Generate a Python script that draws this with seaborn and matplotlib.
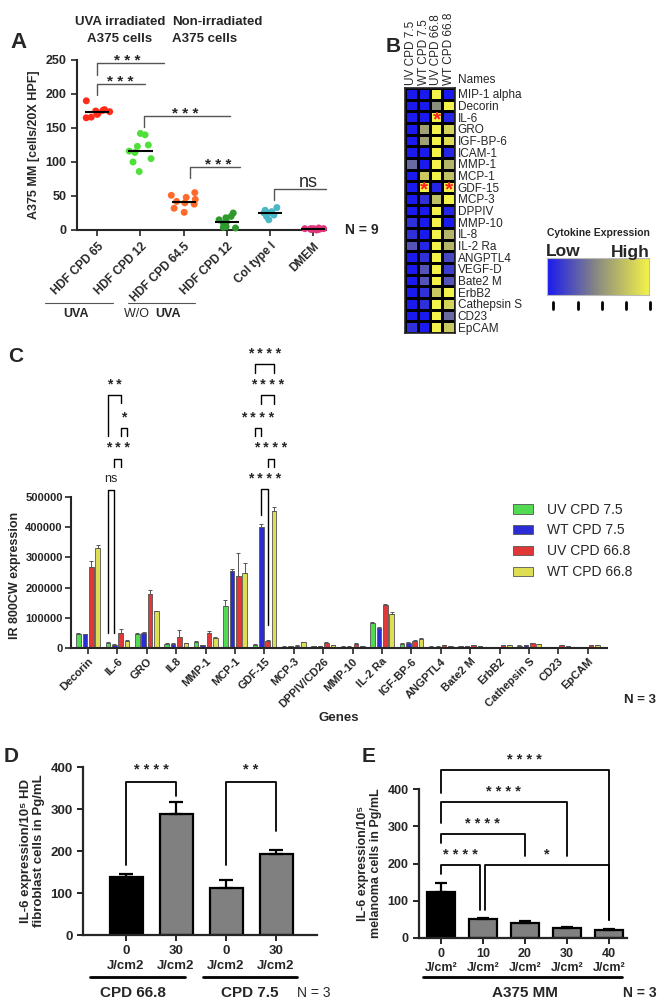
import numpy as np
import pandas as pd
import matplotlib
matplotlib.use('Agg')
import matplotlib.pyplot as plt
import seaborn as sns
from matplotlib.colors import LinearSegmentedColormap
from matplotlib.container import BarContainer

sns.set_style('ticks')
plt.rcParams['font.family'] = ['Liberation Sans', 'DejaVu Sans']
np.random.seed(7)

W, H = 661, 1000


def fx(x):
    return x / W


def fy(y):
    return 1 - y / H


def rect(x0, y0, x1, y1):
    return [x0 / W, 1 - y1 / H, (x1 - x0) / W, (y1 - y0) / H]


# ---------------- data ----------------
# A: migration of A375 cells (cells / 20X HPF)
a_labels = ['HDF CPD 65', 'HDF CPD 12', 'HDF CPD 64.5', 'HDF CPD 12', 'Col type I', 'DMEM']
a_keys = ['uva65', 'uva12', 'no64', 'no12', 'col', 'dmem']
a_colors = ['#ff2a1a', '#4fe03a', '#ff6a2a', '#2e9a2e', '#4ab6c6', '#e0357a']
a_uva65 = [190, 177, 175, 176, 174, 172, 170, 165, 166]
a_uva12 = [142, 140, 125, 123, 116, 114, 105, 100, 86]
a_no64 = [55, 51, 48, 45, 42, 40, 38, 32, 26]
a_no12 = [25, 20, 18, 15, 12, 10, 5, 4, 3]
a_col = [33, 29, 27, 25, 25, 24, 22, 20, 15]
a_dmem = [3, 2, 2, 2, 1, 1, 1, 0, 2]

# B: heatmap (0 = low / blue, 1 = high / yellow)
b_cols = ['UV CPD 7.5', 'WT CPD 7.5', 'UV CPD 66.8', 'WT CPD 66.8']
b_rows = ['MIP-1 alpha', 'Decorin', 'IL-6', 'GRO', 'IGF-BP-6', 'ICAM-1', 'MMP-1',
          'MCP-1', 'GDF-15', 'MCP-3', 'DPPIV', 'MMP-10', 'IL-8', 'IL-2 Ra',
          'ANGPTL4', 'VEGF-D', 'Bate2 M', 'ErbB2', 'Cathepsin S', 'CD23', 'EpCAM']
b_values = [
    [0.0, 0.0, 1.0, 0.0],
    [0.0, 0.0, 0.5, 1.0],
    [0.0, 0.0, 1.0, 0.05],
    [0.0, 0.6, 1.0, 0.85],
    [0.0, 0.6, 1.0, 0.9],
    [0.0, 0.0, 1.0, 0.05],
    [0.35, 0.0, 1.0, 0.7],
    [0.0, 0.8, 1.0, 0.75],
    [0.0, 1.0, 0.05, 1.0],
    [0.0, 0.1, 0.75, 1.0],
    [0.0, 0.0, 1.0, 0.05],
    [0.1, 0.0, 1.0, 0.0],
    [0.1, 0.0, 1.0, 0.7],
    [0.25, 0.05, 1.0, 0.7],
    [0.0, 0.1, 1.0, 0.2],
    [0.0, 0.25, 1.0, 0.15],
    [0.0, 0.25, 1.0, 0.25],
    [0.0, 0.1, 0.8, 1.0],
    [0.0, 0.1, 1.0, 0.85],
    [0.0, 0.0, 1.0, 0.35],
    [0.1, 0.0, 1.0, 0.8],
]

# C: IR 800CW expression (x1000)
c_genes = ['Decorin', 'IL-6', 'GRO', 'IL8', 'MMP-1', 'MCP-1', 'GDF-15', 'MCP-3',
           'DPPIV/CD26', 'MMP-10', 'IL-2 Ra', 'IGF-BP-6', 'ANGPTL4', 'Bate2 M',
           'ErbB2', 'Cathepsin S', 'CD23', 'EpCAM']
c_series = ['UV CPD 7.5', 'WT CPD 7.5', 'UV CPD 66.8', 'WT CPD 66.8']
c_colors = ['#3cf03c', '#1010f0', '#ff1a1a', '#f5f53c']
c_uv75 = [48, 17, 48, 13, 21, 138, 10, 4, 7, 4, 84, 13, 4, 5, 3, 8, 3, 3]
c_wt75 = [45, 10, 51, 13, 10, 255, 402, 5, 5, 4, 66, 17, 4, 5, 3, 9, 3, 3]
c_uv668 = [268, 50, 178, 36, 50, 237, 23, 8, 17, 14, 143, 23, 9, 10, 9, 15, 9, 9]
c_wt668 = [330, 24, 122, 16, 32, 250, 453, 19, 10, 5, 114, 31, 6, 7, 9, 12, 6, 10]
c_uv75_err = [2, 3, 3, 2, 2, 22, 2, 1, 1, 1, 3, 2, 1, 1, 1, 1, 1, 1]
c_wt75_err = [3, 2, 2, 2, 1, 6, 8, 1, 1, 1, 3, 2, 1, 1, 1, 1, 1, 1]
c_uv668_err = [20, 12, 15, 22, 5, 78, 2, 2, 2, 2, 4, 2, 1, 1, 1, 2, 1, 1]
c_wt668_err = [10, 2, 2, 1, 3, 30, 14, 1, 1, 1, 4, 2, 1, 1, 1, 1, 1, 1]

# D: IL-6 in HD fibroblasts
d_groups = ['66.8 0', '66.8 30', '7.5 0', '7.5 30']
d_ticks = ['0\nJ/cm2', '30\nJ/cm2', '0\nJ/cm2', '30\nJ/cm2']
d_vals = [139, 289, 111, 192]
d_err = [6, 28, 20, 10]
d_colors = ['#000000', '#808080', '#808080', '#808080']

# E: IL-6 in A375 melanoma cells
e_groups = ['0', '10', '20', '30', '40']
e_ticks = ['0\nJ/cm²', '10\nJ/cm²', '20\nJ/cm²', '30\nJ/cm²', '40\nJ/cm²']
e_vals = [123, 52, 41, 27, 22]
e_err = [25, 3, 4, 3, 3]
e_colors = ['#000000', '#808080', '#808080', '#808080', '#808080']

fig = plt.figure(figsize=(6.61, 10), dpi=100)


def bracket(ax, x1, x2, ytop, y1, y2, text, ty, fs=10, weight='bold', tx=None, lw=1.0):
    ax.plot([x1, x1, x2, x2], [y1, ytop, ytop, y2], color='black', lw=lw, clip_on=False)
    if tx is None:
        tx = (x1 + x2) / 2
    ax.text(tx, ty, text, ha='center', va='center', fontsize=fs, fontweight=weight)


# ---------------- A ----------------
axA = fig.add_axes(rect(77, 60, 326, 230))
a_all = [a_uva65, a_uva12, a_no64, a_no12, a_col, a_dmem]
dfA = pd.DataFrame({'grp': np.repeat(a_keys, [len(v) for v in a_all]),
                    'val': np.concatenate(a_all)})
sns.stripplot(data=dfA, x='grp', y='val', hue='grp', palette=a_colors, size=5,
              jitter=0.3, legend=False, ax=axA)
for c in axA.collections:
    c.set_clip_on(False)
for i, vals in enumerate(a_all):
    axA.hlines(np.mean(vals), i - 0.28, i + 0.28, color='black', lw=1.5, zorder=5)
axA.set_ylim(0, 250)
axA.set_xlim(-0.47, 5.3)
axA.set_yticks(range(0, 251, 50), [str(v) for v in range(0, 251, 50)], fontweight='bold', fontsize=9)
axA.set_xticks(range(6), a_labels, rotation=45, ha='right', rotation_mode='anchor',
               fontweight='bold', fontsize=8.5)
axA.set_xlabel('')
axA.set_ylabel('A375 MM [cells/20X HPF]', fontweight='bold', fontsize=9)
sns.despine(ax=axA)
for s in ['left', 'bottom']:
    axA.spines[s].set_linewidth(1.5)
axA.tick_params(width=1.2, length=4)

star3 = '* * *'
axA.plot([0, 0, 1.54], [228, 245, 245], color='#555555', lw=1, clip_on=False)
axA.text(0.69, 249, star3, ha='center', va='center', fontsize=11, fontweight='bold')
axA.plot([0, 0, 1.1], [198, 214, 214], color='#555555', lw=1, clip_on=False)
axA.text(0.54, 217, star3, ha='center', va='center', fontsize=11, fontweight='bold')
axA.plot([1.08, 1.08, 3.08], [151, 167, 167], color='#555555', lw=1, clip_on=False)
axA.text(2.04, 170, star3, ha='center', va='center', fontsize=11, fontweight='bold')
axA.plot([2.15, 2.15, 3.3], [76, 92, 92], color='#555555', lw=1, clip_on=False)
axA.text(2.8, 95, star3, ha='center', va='center', fontsize=11, fontweight='bold')
axA.plot([4.1, 4.1, 5.3], [44, 60, 60], color='#555555', lw=1, clip_on=False)
axA.text(4.88, 70, 'ns', ha='center', va='center', fontsize=13)

fig.text(fx(120), fy(22), 'UVA irradiated', ha='center', va='center', fontsize=9.5, fontweight='bold')
fig.text(fx(120), fy(39), 'A375 cells', ha='center', va='center', fontsize=9.5, fontweight='bold')
fig.text(fx(172), fy(22), 'Non-irradiated', ha='left', va='center', fontsize=9.5, fontweight='bold')
fig.text(fx(172), fy(39), 'A375 cells', ha='left', va='center', fontsize=9.5, fontweight='bold')
fig.text(fx(345), fy(230), 'N = 9', ha='left', va='center', fontsize=10, fontweight='bold')
fig.add_artist(plt.Line2D([fx(45), fx(113)], [fy(303), fy(303)], color='#555555', lw=0.8))
fig.add_artist(plt.Line2D([fx(128), fx(195)], [fy(303), fy(303)], color='#555555', lw=0.8))
fig.text(fx(76), fy(314), 'UVA', ha='center', va='center', fontsize=9, fontweight='bold')
fig.text(fx(153), fy(314), 'W/O ', ha='right', va='center', fontsize=9)
fig.text(fx(155), fy(314), 'UVA', ha='left', va='center', fontsize=9, fontweight='bold')
fig.text(fx(10), fy(43), 'A', ha='left', va='center', fontsize=16, fontweight='bold')

# ---------------- B ----------------
cmap = LinearSegmentedColormap.from_list('blue_yellow', ['#1a1af0', '#8c8c80', '#f2f24a'])
axB = fig.add_axes(rect(405, 88, 455, 333))
dfB = pd.DataFrame(b_values, index=b_rows, columns=b_cols)
sns.heatmap(dfB, cmap=cmap, vmin=0, vmax=1, cbar=False, linewidths=0.8,
            linecolor='black', ax=axB)
axB.xaxis.tick_top()
axB.yaxis.tick_right()
axB.set_xticks(np.arange(len(b_cols)) + 0.5, b_cols, rotation=90, fontsize=8.5)
axB.set_yticks(np.arange(len(b_rows)) + 0.5, b_rows, rotation=0, fontsize=8.5)
axB.tick_params(length=0, pad=2)
axB.set_xlabel('')
axB.set_ylabel('')
for s in axB.spines.values():
    s.set_visible(True)
    s.set_linewidth(1.2)
for col, row in [(2, 2), (1, 8), (3, 8)]:
    axB.text(col + 0.55, row + 0.75, '*', color='#ff2020', ha='center', va='center',
             fontsize=15, fontweight='bold')
fig.text(fx(458), fy(80), 'Names', ha='left', va='center', fontsize=8.5)
fig.text(fx(386), fy(46), 'B', ha='left', va='center', fontsize=15, fontweight='bold')

axCB = fig.add_axes(rect(547, 258, 649, 295))
axCB.imshow(np.linspace(0, 1, 256)[None, :], aspect='auto', cmap=cmap)
axCB.set_xticks([])
axCB.set_yticks([])
for s in axCB.spines.values():
    s.set_color('#bbbbbb')
    s.set_linewidth(0.8)
fig.text(fx(547), fy(233), 'Cytokine Expression', ha='left', va='center', fontsize=7.5,
         fontweight='bold')
fig.text(fx(546), fy(252), 'Low', ha='left', va='center', fontsize=12.5, fontweight='bold')
fig.text(fx(650), fy(252), 'High', ha='right', va='center', fontsize=12.5, fontweight='bold')
for x in [553, 578, 602, 626, 650]:
    fig.add_artist(plt.Line2D([fx(x), fx(x)], [fy(302), fy(309)], color='black', lw=2))

# ---------------- C ----------------
axC = fig.add_axes(rect(71, 346, 607, 648))
c_all = [c_uv75, c_wt75, c_uv668, c_wt668]
c_errs = [c_uv75_err, c_wt75_err, c_uv668_err, c_wt668_err]
dfC = pd.DataFrame({'gene': np.tile(c_genes, len(c_series)),
                    'series': np.repeat(c_series, len(c_genes)),
                    'val': np.concatenate(c_all) * 1000})
sns.barplot(data=dfC, x='gene', y='val', hue='series', palette=c_colors, width=0.87,
            gap=0.28, edgecolor='#555555', linewidth=0.6, errorbar=None, ax=axC)
bar_conts = [c for c in axC.containers if isinstance(c, BarContainer)]
centers = []
for k, cont in enumerate(bar_conts):
    cx = [b.get_x() + b.get_width() / 2 for b in cont]
    centers.append(cx)
    axC.errorbar(cx, np.array(c_all[k]) * 1000,
                 yerr=[np.zeros(len(c_genes)), np.array(c_errs[k]) * 1000],
                 fmt='none', ecolor='#555555', elinewidth=0.7, capsize=1.3, capthick=0.7)
axC.set_ylim(0, 1000000)
axC.set_xlim(-0.58, len(c_genes) - 0.35)
axC.set_yticks(range(0, 500001, 100000), [str(v) for v in range(0, 500001, 100000)],
               fontweight='bold', fontsize=8)
axC.spines['left'].set_bounds(0, 500000)
axC.set_xticks(range(len(c_genes)), c_genes, rotation=45, ha='right', rotation_mode='anchor',
               fontweight='bold', fontsize=8)
axC.set_ylabel('IR 800CW expression', fontweight='bold', fontsize=9)
axC.yaxis.set_label_coords(-0.094, 0.24)
axC.set_xlabel('Genes', fontweight='bold', fontsize=9.5, labelpad=2)
sns.despine(ax=axC)
for s in ['left', 'bottom']:
    axC.spines[s].set_linewidth(1.5)
axC.tick_params(width=1.2, length=4, pad=2)
handles, labels = axC.get_legend_handles_labels()
axC.legend(handles, labels, loc='upper left', bbox_to_anchor=(fx(500), fy(490)),
           bbox_transform=fig.transFigure, frameon=False, fontsize=10, handlelength=1.5,
           handleheight=0.7, labelspacing=0.5, handletextpad=1.0)

s4 = '* * * *'
k = 1  # IL-6
bracket(axC, centers[0][k], centers[1][k], 522000, 49000, 49000, 'ns', 560000, fs=9, weight='normal')
bracket(axC, centers[1][k], centers[2][k], 627000, 598000, 598000, '* * *', 661000)
bracket(axC, centers[2][k], centers[3][k], 730000, 701000, 701000, '*', 763000)
bracket(axC, centers[0][k], centers[2][k], 837000, 701000, 810000, '* *', 870000)
k = 6  # GDF-15
bracket(axC, centers[1][k], centers[2][k], 525000, 440000, 76000, s4, 560000)
bracket(axC, centers[2][k], centers[3][k], 627000, 598000, 598000, s4, 661000)
bracket(axC, centers[0][k], centers[1][k], 730000, 701000, 701000, s4, 763000)
bracket(axC, centers[1][k], centers[3][k], 837000, 808000, 808000, s4, 870000)
bracket(axC, centers[0][k], centers[3][k], 940000, 910000, 910000, s4, 973000)
fig.text(fx(8), fy(356), 'C', ha='left', va='center', fontsize=15, fontweight='bold')
fig.text(fx(624), fy(700), 'N = 3', ha='left', va='center', fontsize=9.5, fontweight='bold')

# ---------------- D ----------------
axD = fig.add_axes(rect(83, 767, 317, 935))
sns.barplot(x=d_groups, y=d_vals, hue=d_groups, palette=d_colors, legend=False, width=0.66,
            edgecolor='black', linewidth=1.6, ax=axD)
axD.errorbar(range(len(d_vals)), d_vals, yerr=[np.zeros(len(d_vals)), d_err], fmt='none',
             ecolor='black', elinewidth=1.6, capsize=5, capthick=1.6, zorder=1)
axD.set_ylim(0, 400)
axD.set_xlim(-0.86, 3.82)
axD.set_yticks(range(0, 401, 100), [str(v) for v in range(0, 401, 100)], fontweight='bold', fontsize=9.5)
axD.set_xticks(range(len(d_vals)), d_ticks, fontweight='bold', fontsize=9.5, linespacing=1.25)
axD.set_ylabel('IL-6 expression/10⁵ HD\nfibroblast cells in Pg/mL', fontweight='bold',
               fontsize=9.5, linespacing=1.1)
sns.despine(ax=axD)
for s in ['left', 'bottom']:
    axD.spines[s].set_linewidth(1.6)
axD.tick_params(width=1.4, length=4)
bracket(axD, 0, 1, 364, 167, 330, s4, 392, fs=10.5, lw=1.3)
bracket(axD, 2, 3, 364, 167, 247, '* *', 392, fs=10.5, lw=1.3)
fig.add_artist(plt.Line2D([fx(90), fx(185)], [fy(977), fy(977)], color='black', lw=2))
fig.add_artist(plt.Line2D([fx(203), fx(297)], [fy(977), fy(977)], color='black', lw=2))
fig.text(fx(133), fy(993), 'CPD 66.8', ha='center', va='center', fontsize=11, fontweight='bold')
fig.text(fx(250), fy(993), 'CPD 7.5', ha='center', va='center', fontsize=11, fontweight='bold')
fig.text(fx(297), fy(993), 'N = 3', ha='left', va='center', fontsize=10)
fig.text(fx(4), fy(756), 'D', ha='left', va='center', fontsize=15, fontweight='bold')

# ---------------- E ----------------
axE = fig.add_axes(rect(419, 789, 627, 938))
sns.barplot(x=e_groups, y=e_vals, hue=e_groups, palette=e_colors, legend=False, width=0.67,
            edgecolor='black', linewidth=1.6, ax=axE)
axE.errorbar(range(len(e_vals)), e_vals, yerr=[np.zeros(len(e_vals)), e_err], fmt='none',
             ecolor='black', elinewidth=1.6, capsize=4.5, capthick=1.6, zorder=1)
axE.set_ylim(0, 400)
axE.set_xlim(-0.52, 4.43)
axE.set_yticks(range(0, 401, 100), [str(v) for v in range(0, 401, 100)], fontweight='bold', fontsize=9)
axE.set_xticks(range(len(e_vals)), e_ticks, fontweight='bold', fontsize=9, linespacing=1.2)
axE.set_ylabel('IL-6 expression/10⁵\nmelanoma cells in Pg/mL', fontweight='bold',
               fontsize=9, linespacing=1.1)
sns.despine(ax=axE)
for s in ['left', 'bottom']:
    axE.spines[s].set_linewidth(1.6)
axE.tick_params(width=1.4, length=4)
bracket(axE, 0, 4, 451, 388, 47, s4, 478, fs=10.5, lw=1.3)
bracket(axE, 0, 3, 364, 308, 220, s4, 393, fs=10.5, lw=1.3)
bracket(axE, 0, 2, 279, 254, 220, s4, 306, fs=10.5, lw=1.3)
bracket(axE, 0, 0.94, 196, 171, 76, s4, 223, fs=10.5, lw=1.3)
bracket(axE, 1.06, 4, 196, 76, 47, '*', 223, fs=10.5, tx=2.52, lw=1.3)
fig.add_artist(plt.Line2D([fx(423), fx(622)], [fy(977), fy(977)], color='black', lw=2))
fig.text(fx(525), fy(993), 'A375 MM', ha='center', va='center', fontsize=11, fontweight='bold')
fig.text(fx(623), fy(993), 'N = 3', ha='left', va='center', fontsize=10, fontweight='bold')
fig.text(fx(362), fy(757), 'E', ha='left', va='center', fontsize=15, fontweight='bold')

fig.savefig('out.png', dpi=100)
